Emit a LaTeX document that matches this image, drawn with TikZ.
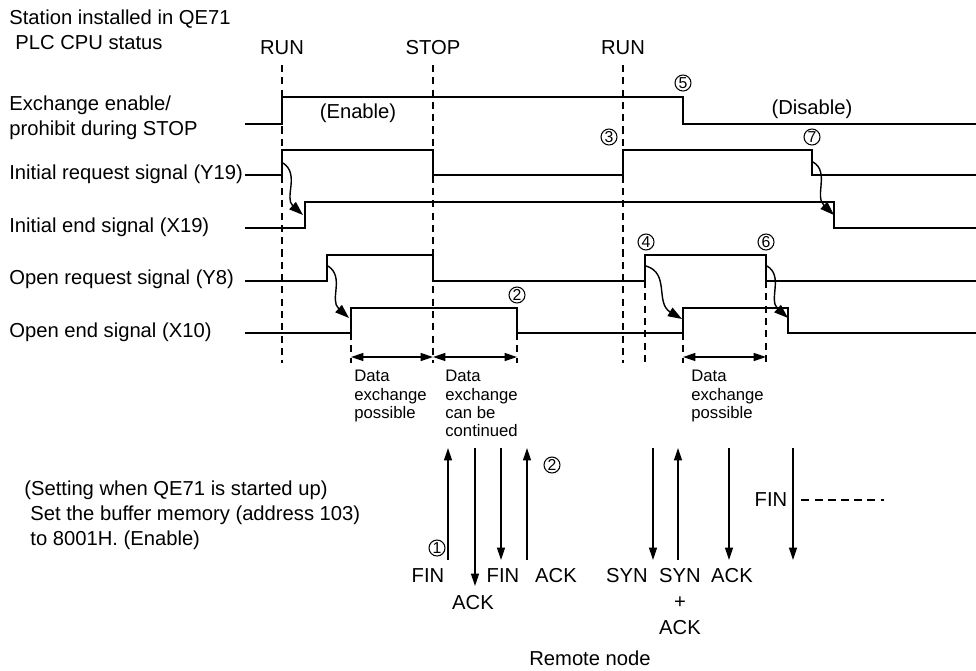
\documentclass[tikz,border=0pt]{standalone}
\usepackage{fontspec}
\setmainfont{Liberation Sans}
\usepackage{tikz}
\usetikzlibrary{arrows.meta, positioning}

\begin{document}
\begin{tikzpicture}[
    x=0.02cm, y=-0.02cm,
    font=\fontsize{11.5}{14.2}\selectfont,
    lbl/.style={inner sep=0pt, anchor=west},
    small/.style={inner sep=0pt, anchor=north west, align=left,
                  font=\fontsize{9.5}{10.4}\selectfont},
    num/.style={circle, draw, line width=0.6pt, inner sep=0pt,
                minimum size=0.32cm, font=\fontsize{9}{9}\selectfont},
    sig/.style={line width=1.4pt, line join=miter},
    guide/.style={line width=0.7pt, dash pattern=on 4pt off 3pt},
    arr/.style={-{Triangle[length=7pt, width=4.5pt]}, line width=0.7pt},
    wave/.style={-{Triangle[length=8pt, width=5.5pt]}, line width=0.8pt},
    span/.style={{Triangle[length=7pt, width=4.5pt]}-{Triangle[length=7pt, width=4.5pt]},
                 line width=0.9pt},
]
    \useasboundingbox (0,0) rectangle (976,670);

    % Titles
    \node[lbl, align=left] (station) at (9,30) {Station installed in QE71\\\hspace*{0.3em}PLC CPU status};
    \node (run1) at (282,48) {RUN};
    \node (stop) at (433,48) {STOP};
    \node (run2) at (623,48) {RUN};

    % Signal names
    \node[lbl, align=left] (lblexch) at (9,118) {Exchange enable/\\prohibit during STOP};
    \node[lbl] (lblinireq) at (9,174) {Initial request signal (Y19)};
    \node[lbl] (lbliniend) at (9,227) {Initial end signal (X19)};
    \node[lbl] (lblopenreq) at (9,279) {Open request signal (Y8)};
    \node[lbl] (lblopenend) at (9,332) {Open end signal (X10)};

    % Guide lines
    \draw[guide] (282,65) -- (282,363);
    \draw[guide] (433,65) -- (433,363);
    \draw[guide] (623,65) -- (623,363);
    \draw[guide] (351,333) -- (351,363);
    \draw[guide] (517,333) -- (517,363);
    \draw[guide] (645,281) -- (645,363);
    \draw[guide] (683,333) -- (683,363);
    \draw[guide] (766,281) -- (766,363);

    % Signals
    \draw[sig] (245,124) -- (282,124) -- (282,97) -- (683,97) -- (683,124) -- (976,124);
    \draw[sig] (245,175) -- (282,175) -- (282,150) -- (433,150) -- (433,175)
               -- (623,175) -- (623,150) -- (812,150) -- (812,175) -- (976,175);
    \draw[sig] (245,228) -- (305,228) -- (305,202) -- (834,202) -- (834,228) -- (976,228);
    \draw[sig] (245,281) -- (327,281) -- (327,255) -- (433,255) -- (433,281)
               -- (645,281) -- (645,255) -- (766,255) -- (766,281) -- (976,281);
    \draw[sig] (245,333) -- (351,333) -- (351,308) -- (517,308) -- (517,333)
               -- (683,333) -- (683,308) -- (788,308) -- (788,333) -- (976,333);

    \node (enable) at (358,113) {(Enable)};
    \node (disable) at (812,109) {(Disable)};

    % Numbers
    \node[num] (n5) at (683,83) {5};
    \node[num] (n3) at (609,137) {3};
    \node[num] (n7) at (812,137) {7};
    \node[num] (n4) at (646,242) {4};
    \node[num] (n6) at (766,242) {6};
    \node[num] (n2top) at (517,295) {2};

    % Handshake
    \draw[wave] (283,163) .. controls (300,174) and (284,198) .. (303,215);
    \draw[wave] (328,266) .. controls (345,277) and (329,300) .. (349,318);
    \draw[wave] (813,162) .. controls (830,172) and (814,196) .. (834,215);
    \draw[wave] (646,266) .. controls (670,273) and (655,303) .. (682,319);
    \draw[wave] (767,266) .. controls (784,276) and (768,300) .. (788,318);

    % Data exchange
    \draw[span] (351,357) -- (433,357);
    \draw[span] (433,357) -- (517,357);
    \draw[span] (683,357) -- (766,357);
    \node[small] (dx1) at (354,370) {Data\\exchange\\possible};
    \node[small] (dx2) at (445,370) {Data\\exchange\\can be\\continued};
    \node[small] (dx3) at (691,370) {Data\\exchange\\possible};

    % Setting
    \node[lbl, align=left] (setting) at (24,515) {(Setting when QE71 is started up)\\\hspace*{0.3em}Set the buffer memory (address 103)\\\hspace*{0.3em}to 8001H. (Enable)};

    % Remote node messages
    \draw[arr] (448,560) -- (448,448);
    \draw[arr] (475,448) -- (475,586);
    \draw[arr] (501,448) -- (501,560);
    \draw[arr] (527,560) -- (527,448);
    \draw[arr] (653,448) -- (653,560);
    \draw[arr] (678,560) -- (678,448);
    \draw[arr] (729,448) -- (729,560);
    \draw[arr] (793,448) -- (793,560);

    \node[num] (n1) at (437,548) {1};
    \node[num] (n2bot) at (552,465) {2};

    \node (fin1) at (428,576) {FIN};
    \node (ack1) at (473,603) {ACK};
    \node (fin2) at (503,576) {FIN};
    \node (ack2) at (556,576) {ACK};
    \node (syn1) at (627,576) {SYN};
    \node (syn2) at (680,576) {SYN};
    \node (ack3) at (732,576) {ACK};
    \node (plus) at (680,603) {+};
    \node (ack4) at (680,628) {ACK};
    \node (fin3) at (771,500) {FIN};
    \draw[line width=0.7pt, dash pattern=on 4.5pt off 3pt] (fin3.east) ++(8,0) -- (884,500);
    \node (remote) at (590,658) {Remote node};
\end{tikzpicture}
\end{document}
